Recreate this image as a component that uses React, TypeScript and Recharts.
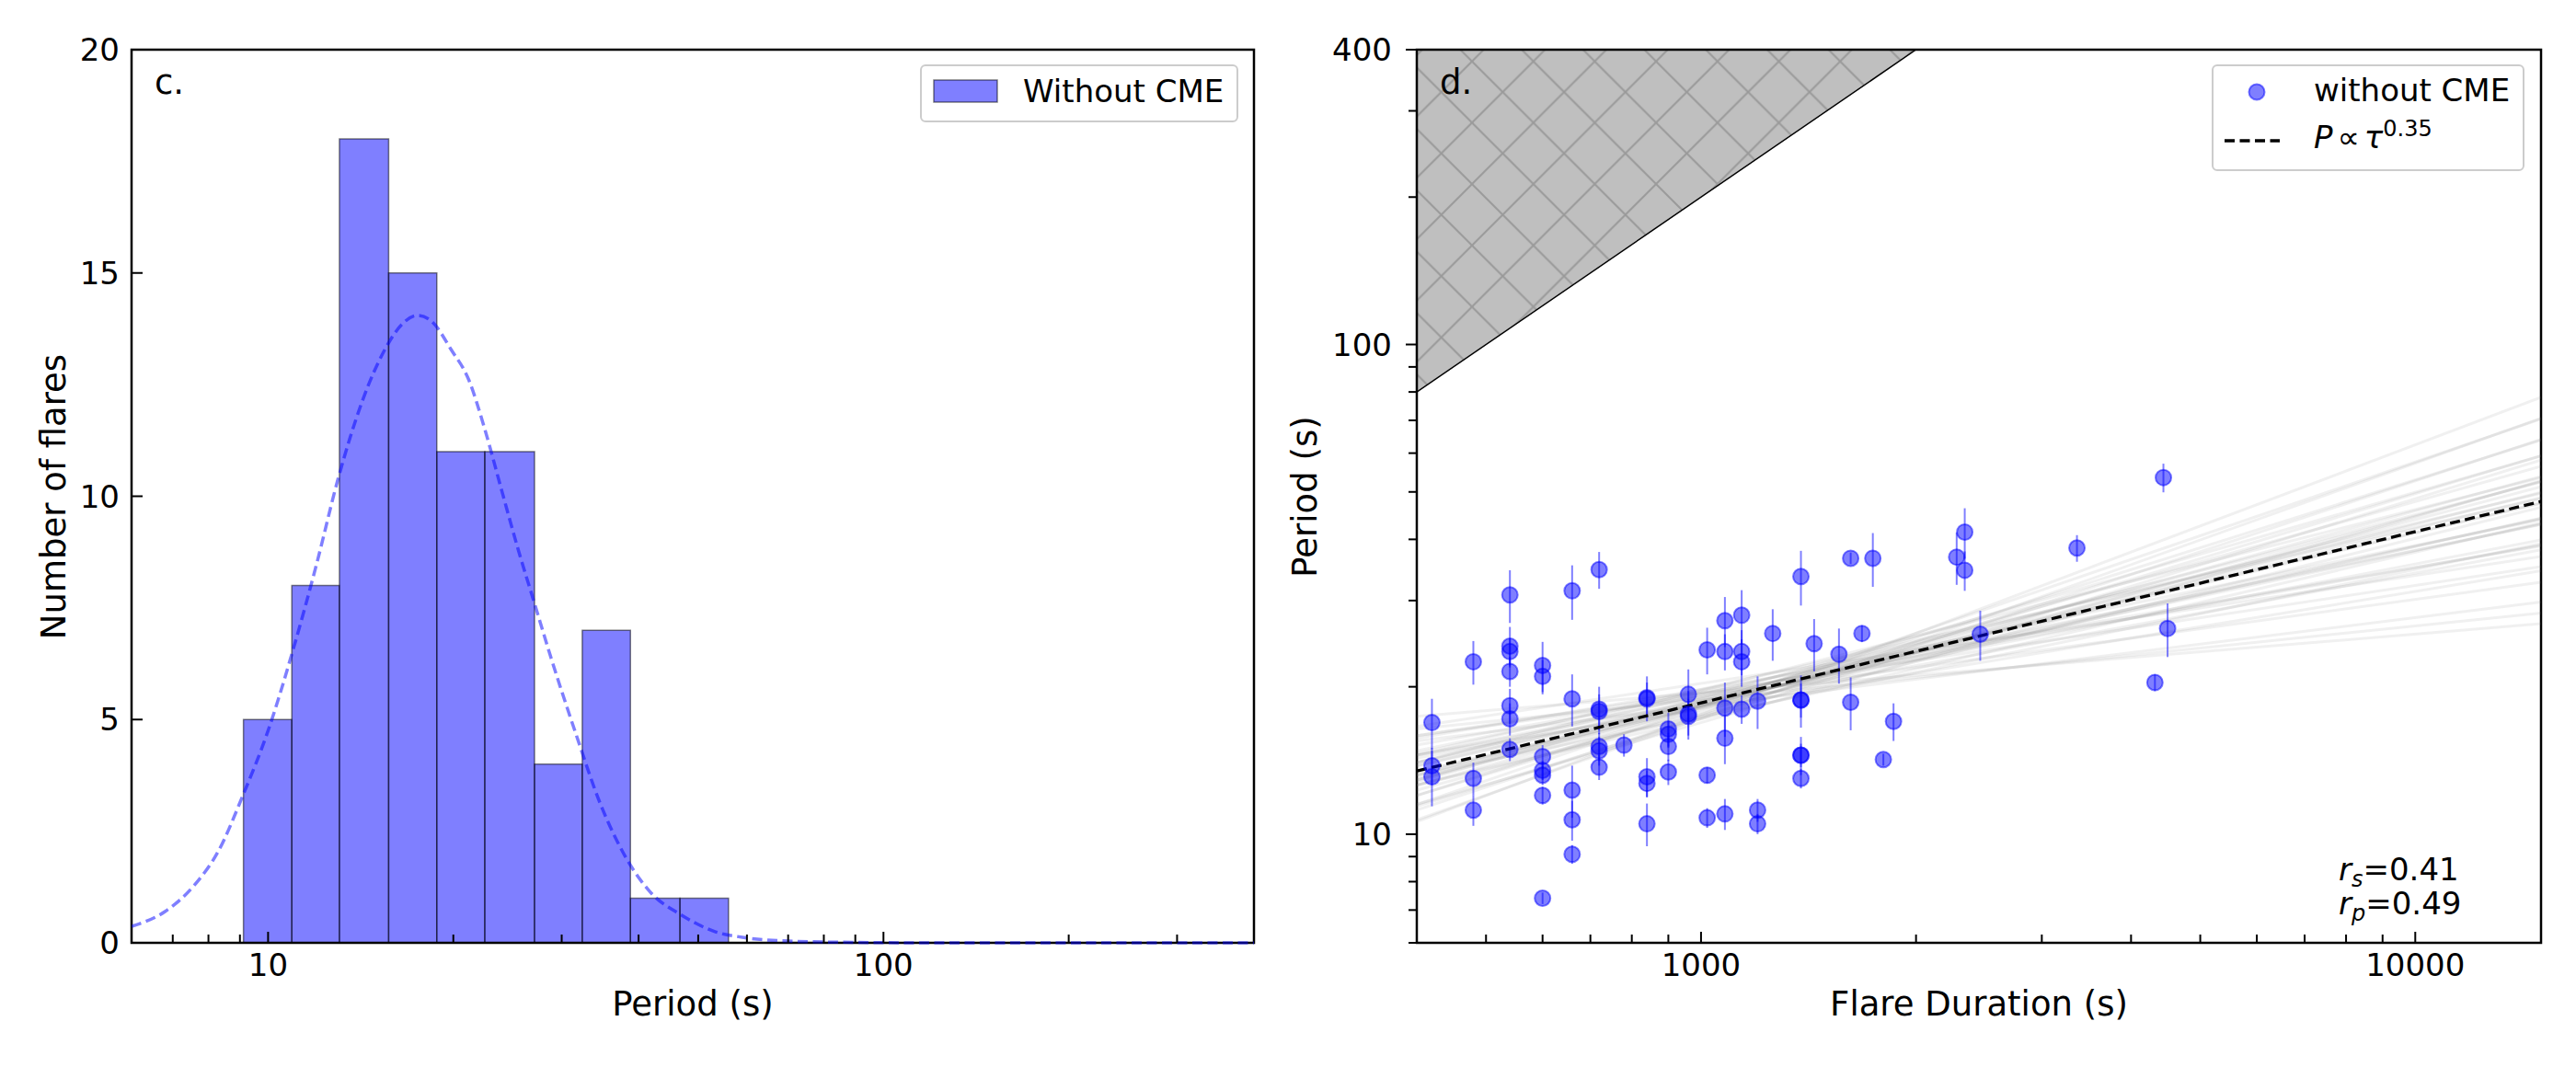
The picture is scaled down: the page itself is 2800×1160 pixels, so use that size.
import React from 'react';
import {
  Area,
  ComposedChart,
  ErrorBar,
  Line,
  ReferenceArea,
  Scatter,
  XAxis,
  YAxis
} from 'recharts';

const FONT = 'DejaVu Sans';
const BLUE_HALF = 'rgba(0,0,255,0.5)';

// ---- panel c: histogram of periods (log-spaced bins) ----
const binEdges = [9.12, 10.93, 13.06, 15.7, 18.8, 22.5, 27.1, 32.4, 38.8, 46.7, 56.0];
const binCounts = [5, 8, 18, 15, 11, 11, 4, 7, 1, 1];

// dashed fit curve
const curvePeriod = [6, 6.8, 7.6, 8.3, 9.1, 10, 11, 12, 13, 14.2, 15.5, 16.5, 17.5, 18.5, 19.8, 21.2, 22.5, 24, 25.5, 27.1, 28.8, 31.6, 34.7, 38, 41.7, 47, 53, 60, 70, 90, 120, 200, 400];
const curveCount = [0.37, 0.7, 1.3, 2.05, 3.3, 4.75, 6.6, 8.5, 10.4, 12.1, 13.3, 13.85, 14.05, 13.9, 13.3, 12.6, 11.5, 10.1, 8.8, 7.6, 6.4, 4.7, 3.1, 1.95, 1.15, 0.62, 0.26, 0.11, 0.04, 0.01, 0, 0, 0];

const histPeriodDomain = [6, 400];
const histPeriodTicks = [7, 8, 9, 10, 20, 30, 40, 50, 60, 70, 80, 90, 100, 200, 300];
const histPeriodLabels = [10, 100];
const countDomain = [0, 20];
const countTicks = [0, 5, 10, 15, 20];

// ---- panel d: period vs flare duration ----
const flareDuration = [
  420, 420, 420, 480, 480, 480, 540, 540, 540, 540, 540, 540, 540,
  600, 600, 600, 600, 600, 600, 600, 660, 660, 660, 660, 660,
  720, 720, 720, 720, 720, 720, 780, 840, 840, 840, 840, 840,
  900, 900, 900, 900, 960, 960, 960, 1020, 1020, 1020,
  1080, 1080, 1080, 1080, 1080, 1140, 1140, 1140, 1140, 1200, 1200, 1200,
  1260, 1380, 1380, 1380, 1380, 1380, 1380, 1440, 1560, 1620, 1620, 1680,
  1740, 1800, 1860, 2280, 2340, 2340, 2460, 3360, 4320, 4440, 4500
];
const flarePeriod = [
  16.9, 13.8, 13.1, 22.5, 13.0, 11.2, 30.8, 24.2, 23.6, 21.5, 18.3, 17.2, 14.9,
  22.1, 21.0, 14.4, 13.5, 13.2, 12.0, 7.4, 31.4, 18.9, 12.3, 10.7, 9.1,
  34.7, 18.0, 17.8, 15.1, 14.8, 13.7, 15.2, 19.0, 18.9, 13.1, 12.7, 10.5,
  16.4, 16.0, 15.1, 13.4, 19.3, 17.6, 17.4, 23.8, 13.2, 10.8,
  27.3, 23.6, 18.1, 15.7, 11.0, 28.0, 23.6, 22.5, 18.0, 18.7, 11.2, 10.5,
  25.7, 33.6, 18.8, 18.8, 14.5, 14.5, 13.0, 24.5, 23.3, 36.6, 18.6, 25.7,
  36.6, 14.2, 17.0, 36.8, 41.4, 34.6, 25.6, 38.4, 20.4, 53.5, 26.3
];
const periodErr = [
  2.0, 1.2, 1.7, 2.3, 1.0, 0.8, 3.8, 2.3, 1.5, 1.5, 1.5, 1.3, 0.8,
  2.6, 1.7, 0.8, 0.6, 0.6, 0.5, 0.2, 4.0, 2.3, 1.5, 1.0, 0.4,
  3.0, 2.0, 1.5, 1.0, 1.0, 0.8, 0.8, 2.0, 1.5, 1.2, 0.8, 1.05,
  1.3, 1.0, 1.0, 0.8, 2.4, 2.0, 1.5, 2.6, 0.5, 0.5,
  3.2, 2.0, 2.3, 1.8, 0.8, 3.5, 2.5, 2.5, 1.2, 2.3, 0.6, 0.5,
  3.1, 4.3, 2.3, 1.5, 1.3, 0.8, 0.6, 3.0, 3.0, 1.0, 2.3, 1.0,
  4.6, 0.4, 1.5, 4.5, 4.9, 3.2, 3.0, 2.4, 0.8, 3.6, 3.3
];

const durationDomain = [400, 15000];
const periodDomain = [6, 400];

// best fit P ~ tau^0.35, at the two ends of the duration axis
const fitPeriod = [13.46, 47.8];

// bootstrap fits: period at the left and right ends of the duration axis
const fanStart = [13.4, 14.5, 12.3, 15.7, 11.4, 15.9, 11.5, 14.6, 13.2, 10.6, 16.4, 13.2, 14.5, 12.9, 12.6, 17.4, 13.4, 12.0, 13.8, 16.6, 11.5, 12.9, 15.2, 11.2, 14.0, 14.5, 12.6, 13.8, 14.3, 12.0, 14.8, 15.5, 12.8, 13.2, 10.7, 14.0, 12.6, 14.0, 15.9, 13.0];
const fanEnd = [47.5, 42.9, 52.5, 38.8, 58.1, 32.7, 70.5, 48.4, 39.2, 78, 28.3, 52.4, 39.9, 59.2, 46.5, 26.9, 44.2, 63.8, 44.1, 36.9, 52.7, 51.2, 38.9, 64.0, 49.7, 34.5, 53.8, 47.4, 38.1, 59.3, 43.9, 29.8, 56.4, 48.7, 70.7, 53.5, 43.2, 43.0, 35.2, 49.9];

// excluded region P > tau / 5
const limitDuration = [400, 2000];
const limitPeriod = [80, 400];

const durationTicks = [500, 600, 700, 800, 900, 1000, 2000, 3000, 4000, 5000, 6000, 7000, 8000, 9000, 10000];
const durationLabels = [1000, 10000];
const periodTicks = [6, 7, 8, 9, 10, 20, 30, 40, 50, 60, 70, 80, 90, 100, 200, 300, 400];
const periodLabels = [10, 100, 400];

const curveData = curvePeriod.map((x, i) => ({ x, y: curveCount[i] }));
const flarePoints = flareDuration.map((x, i) => ({ x, y: flarePeriod[i], err: periodErr[i] }));
const fitData = durationDomain.map((x, i) => ({ x, y: fitPeriod[i] }));
const fanLines = fanStart.map((a, i) => [
  { x: durationDomain[0], y: a },
  { x: durationDomain[1], y: fanEnd[i] }
]);
const limitData = limitDuration.map((x, i) => ({ x, band: [limitPeriod[i], periodDomain[1]] }));

// ticks drawn matplotlib-style: inward on x, label only on majors
const bottomTick = (labels: number[]) => (props: any) => {
  const { x, y, payload } = props;
  const major = labels.includes(payload.value);
  return (
    <g>
      <line x1={x} x2={x} y1={y} y2={y - (major ? 12 : 9)} stroke="#000" strokeWidth={2} />
      {major && (
        <text x={x} y={y + 36} textAnchor="middle" fontSize={34} fontFamily={FONT} fill="#000">
          {payload.value}
        </text>
      )}
    </g>
  );
};

const leftTick = (labels: number[], inward: boolean) => (props: any) => {
  const { x, y, payload } = props;
  const major = labels.includes(payload.value);
  const len = major ? 12 : 9;
  return (
    <g>
      <line x1={x} x2={inward ? x + len : x - len} y1={y} y2={y} stroke="#000" strokeWidth={2} />
      {major && (
        <text x={inward ? x - 13 : x - 27} y={y + 12} textAnchor="end" fontSize={34} fontFamily={FONT} fill="#000">
          {payload.value}
        </text>
      )}
    </g>
  );
};

const marker = (props: any) => (
  <circle cx={props.cx} cy={props.cy} r={8.5} fill={BLUE_HALF} stroke={BLUE_HALF} strokeWidth={2} />
);

function HistogramPanel() {
  return (
    <ComposedChart width={1400} height={1160} data={curveData} margin={{ top: 54, right: 37, bottom: 0, left: 0 }}>
      <XAxis
        dataKey="x"
        type="number"
        scale="log"
        domain={histPeriodDomain}
        allowDataOverflow
        ticks={histPeriodTicks}
        interval={0}
        tick={bottomTick(histPeriodLabels)}
        tickLine={false}
        axisLine={false}
        tickSize={0}
        tickMargin={0}
        height={135}
      />
      <YAxis
        type="number"
        domain={countDomain}
        ticks={countTicks}
        interval={0}
        tick={leftTick(countTicks, true)}
        tickLine={false}
        axisLine={false}
        tickSize={0}
        tickMargin={0}
        width={143}
      />
      {binCounts.map((c, i) => (
        <ReferenceArea
          key={i}
          x1={binEdges[i]}
          x2={binEdges[i + 1]}
          y1={0}
          y2={c}
          fill="#0000ff"
          fillOpacity={0.5}
          stroke="#000"
          strokeOpacity={0.5}
          strokeWidth={1.5}
        />
      ))}
      <Line
        dataKey="y"
        type="monotone"
        stroke="#0000ff"
        strokeOpacity={0.5}
        strokeWidth={3.5}
        strokeDasharray="11 5.5"
        dot={false}
        activeDot={false}
        isAnimationActive={false}
      />
      <ReferenceArea
        x1={histPeriodDomain[0]}
        x2={histPeriodDomain[1]}
        y1={countDomain[0]}
        y2={countDomain[1]}
        fill="none"
        stroke="#000"
        strokeWidth={2.5}
      />
    </ComposedChart>
  );
}

function ScatterPanel() {
  return (
    <ComposedChart width={1400} height={1160} data={limitData} margin={{ top: 54, right: 38, bottom: 0, left: 0 }}>
      <defs>
        <pattern id="hatch" patternUnits="userSpaceOnUse" x={200} y={66.7} width={66.7} height={66.7}>
          <rect width={66.7} height={66.7} fill="#bfbfbf" />
          <path d="M0 0L66.7 66.7M66.7 0L0 66.7" stroke="#9a9a9a" strokeWidth={2} />
        </pattern>
      </defs>
      <XAxis
        dataKey="x"
        type="number"
        scale="log"
        domain={durationDomain}
        allowDataOverflow
        ticks={durationTicks}
        interval={0}
        tick={bottomTick(durationLabels)}
        tickLine={false}
        axisLine={false}
        tickSize={0}
        tickMargin={0}
        height={135}
      />
      <YAxis
        dataKey="y"
        type="number"
        scale="log"
        domain={periodDomain}
        allowDataOverflow
        ticks={periodTicks}
        interval={0}
        tick={leftTick(periodLabels, false)}
        tickLine={false}
        axisLine={false}
        tickSize={0}
        tickMargin={0}
        width={140}
      />
      <Area
        dataKey="band"
        type="linear"
        fill="url(#hatch)"
        fillOpacity={1}
        stroke="#000"
        strokeWidth={1.5}
        dot={false}
        activeDot={false}
        isAnimationActive={false}
      />
      {fanLines.map((d, i) => (
        <Line
          key={i}
          data={d}
          dataKey="y"
          type="linear"
          stroke="#7a7a7a"
          strokeOpacity={0.11}
          strokeWidth={3}
          dot={false}
          activeDot={false}
          isAnimationActive={false}
        />
      ))}
      <Scatter data={flarePoints} dataKey="y" shape={marker} isAnimationActive={false}>
        <ErrorBar dataKey="err" direction="y" width={0} stroke={BLUE_HALF} strokeWidth={2} />
      </Scatter>
      <Line
        data={fitData}
        dataKey="y"
        type="linear"
        stroke="#000"
        strokeWidth={3.3}
        strokeDasharray="11 5.5"
        dot={false}
        activeDot={false}
        isAnimationActive={false}
      />
      <ReferenceArea
        x1={durationDomain[0]}
        x2={durationDomain[1]}
        y1={periodDomain[0]}
        y2={periodDomain[1]}
        fill="none"
        stroke="#000"
        strokeWidth={2.5}
      />
    </ComposedChart>
  );
}

export default function App() {
  return (
    <div style={{ position: 'absolute', left: 0, top: 0, width: 2800, height: 1160, background: '#fff', fontFamily: FONT }}>
      <div style={{ position: 'absolute', left: 0, top: 0 }}>
        <HistogramPanel />
      </div>
      <div style={{ position: 'absolute', left: 1400, top: 0 }}>
        <ScatterPanel />
      </div>
      <svg
        width={2800}
        height={1160}
        style={{ position: 'absolute', left: 0, top: 0, pointerEvents: 'none' }}
        fontFamily={FONT}
        fill="#000"
      >
        {/* panel labels */}
        <text x={168} y={102} fontSize={37}>c.</text>
        <text x={1565} y={102} fontSize={37}>d.</text>

        {/* axis titles */}
        <text transform="translate(71,540) rotate(-90)" textAnchor="middle" fontSize={37}>Number of flares</text>
        <text x={753} y={1104} textAnchor="middle" fontSize={37}>Period (s)</text>
        <text transform="translate(1431,540) rotate(-90)" textAnchor="middle" fontSize={37}>Period (s)</text>
        <text x={2151} y={1104} textAnchor="middle" fontSize={37}>Flare Duration (s)</text>

        {/* legend c */}
        <rect x={1001} y={71} width={344} height={61} rx={5} fill="#fff" fillOpacity={0.8} stroke="#cccccc" strokeWidth={2} />
        <rect x={1015} y={87} width={69} height={24} fill="#0000ff" fillOpacity={0.5} stroke="#000" strokeOpacity={0.5} strokeWidth={1.5} />
        <text x={1112} y={111} fontSize={34}>Without CME</text>

        {/* legend d */}
        <rect x={2405} y={71} width={338} height={114} rx={5} fill="#fff" fillOpacity={0.8} stroke="#cccccc" strokeWidth={2} />
        <circle cx={2453} cy={100} r={8.5} fill={BLUE_HALF} stroke={BLUE_HALF} strokeWidth={2} />
        <text x={2515} y={110} fontSize={34}>without CME</text>
        <line x1={2418} x2={2478} y1={153} y2={153} stroke="#000" strokeWidth={3.3} strokeDasharray="11 5.5" />
        <text x={2515} y={161} fontSize={34}>
          <tspan fontStyle="italic">P</tspan>
          <tspan dx={5}>∝</tspan>
          <tspan dx={5} fontStyle="italic">τ</tspan>
          <tspan fontSize={24} dy={-13}>0.35</tspan>
        </text>

        {/* correlation coefficients */}
        <text x={2542} y={957} fontSize={34}>
          <tspan fontStyle="italic">r</tspan>
          <tspan fontStyle="italic" fontSize={24} dy={7}>s</tspan>
          <tspan dy={-7}>=0.41</tspan>
        </text>
        <text x={2542} y={994} fontSize={34}>
          <tspan fontStyle="italic">r</tspan>
          <tspan fontStyle="italic" fontSize={24} dy={7}>p</tspan>
          <tspan dy={-7}>=0.49</tspan>
        </text>
      </svg>
    </div>
  );
}
